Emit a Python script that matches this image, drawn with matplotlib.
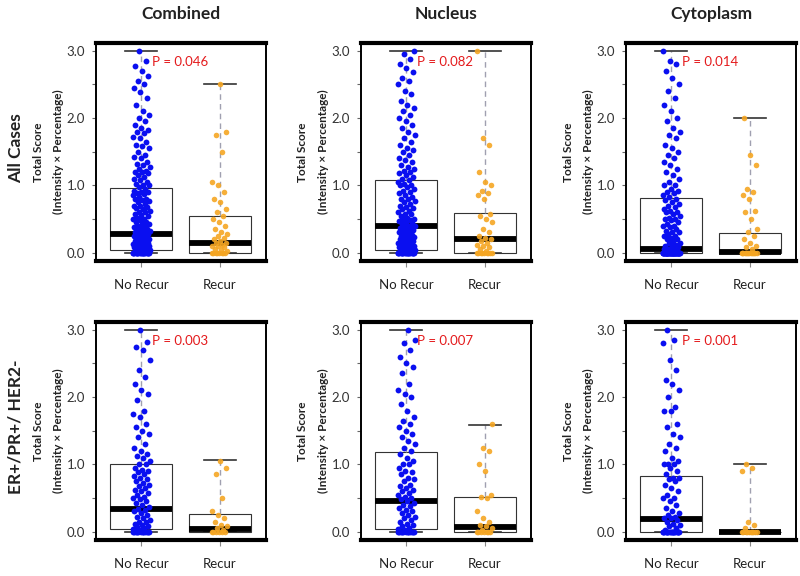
import numpy as np
import matplotlib
matplotlib.use('Agg')
import matplotlib.pyplot as plt

plt.rcParams['font.family'] = ['Lato', 'DejaVu Sans']

col_titles = ['Combined', 'Nucleus', 'Cytoplasm']
row_labels = ['All Cases', 'ER+/PR+/ HER2-']
groups = ['No Recur', 'Recur']
p_texts = [['P = 0.046', 'P = 0.082', 'P = 0.014'],
           ['P = 0.003', 'P = 0.007', 'P = 0.001']]
yticks = [0.0, 1.0, 2.0, 3.0]
ytick_labels = ['0.0', '1.0', '2.0', '3.0']

# Box statistics: (whislo, q1, med, q3, whishi)
stats_no = [[(0, 0.035, 0.27, 0.955, 3.0), (0, 0.04, 0.40, 1.08, 3.0), (0, 0.0, 0.05, 0.81, 3.0)],
            [(0, 0.035, 0.34, 1.00, 3.0), (0, 0.035, 0.45, 1.19, 3.0), (0, 0.0, 0.19, 0.83, 3.0)]]
stats_re = [[(0, 0.0, 0.14, 0.54, 2.5), (0, 0.0, 0.21, 0.59, 3.0), (0, 0.0, 0.01, 0.29, 2.0)],
            [(0, 0.0, 0.04, 0.26, 1.06), (0, 0.0, 0.07, 0.52, 1.59), (0, 0.0, 0.0, 0.0, 1.0)]]

# Individual scores
A1_no = ("0 0 0 0 0 0 0 0 0 0 0 0 0 0 0 0 0 0 0.02 0.02 0.03 0.04 0.05 0.05 0.06 0.07 0.08 0.08 0.09 "
         "0.10 0.10 0.10 0.12 0.12 0.13 0.15 0.15 0.15 0.16 0.18 0.18 0.20 0.20 0.20 0.21 0.22 0.24 0.25 "
         "0.25 0.26 0.27 0.28 0.30 0.30 0.30 0.32 0.33 0.35 0.35 0.37 0.38 0.40 0.40 0.42 0.44 0.45 0.45 "
         "0.48 0.50 0.50 0.52 0.55 0.56 0.58 0.60 0.60 0.62 0.65 0.67 0.68 0.70 0.70 0.72 0.75 0.77 0.78 "
         "0.80 0.80 0.82 0.85 0.87 0.88 0.90 0.90 0.92 0.95 0.97 1.00 1.00 1.02 1.05 1.08 1.10 1.12 1.15 "
         "1.18 1.20 1.20 1.22 1.25 1.28 1.30 1.32 1.35 1.40 1.42 1.45 1.50 1.55 1.58 1.60 1.65 1.70 1.72 "
         "1.78 1.80 1.82 1.85 1.90 1.95 2.00 2.05 2.10 2.20 2.30 2.38 2.45 2.50 2.55 2.62 2.70 2.78 2.85 3.00")
A1_re = ("0 0 0 0 0 0 0 0 0.02 0.04 0.05 0.08 0.10 0.10 0.12 0.15 0.15 0.18 0.20 0.22 0.25 0.28 0.30 "
         "0.35 0.40 0.45 0.50 0.55 0.60 0.65 0.75 0.80 0.90 1.00 1.05 1.50 1.75 1.80 2.50")
A2_no = ("0 0 0 0 0 0 0 0 0 0 0 0 0 0 0 0 0 0 0.02 0.02 0.03 0.04 0.05 0.05 0.06 0.07 0.08 0.08 0.10 0.10 "
         "0.11 0.12 0.13 0.15 0.15 0.16 0.17 0.18 0.20 0.20 0.21 0.22 0.23 0.25 0.25 0.26 0.28 0.30 0.30 "
         "0.32 0.34 0.35 0.36 0.37 0.38 0.40 0.40 0.42 0.44 0.45 0.47 0.48 0.50 0.50 0.52 0.55 0.57 0.58 "
         "0.60 0.62 0.65 0.67 0.68 0.70 0.72 0.75 0.77 0.80 0.80 0.82 0.85 0.88 0.90 0.92 0.95 0.98 1.00 "
         "1.00 1.02 1.05 1.08 1.10 1.12 1.15 1.18 1.20 1.22 1.25 1.28 1.30 1.35 1.38 1.40 1.45 1.50 1.52 "
         "1.55 1.60 1.65 1.70 1.75 1.80 1.85 1.90 1.95 2.00 2.05 2.10 2.15 2.20 2.25 2.35 2.40 2.50 2.55 "
         "2.60 2.68 2.75 2.80 2.88 2.95 3.00")
A2_re = ("0 0 0 0 0 0 0 0 0 0.02 0.05 0.08 0.10 0.12 0.15 0.18 0.20 0.22 0.25 0.30 0.35 0.45 0.50 0.55 "
         "0.58 0.80 0.85 0.88 0.92 1.00 1.05 1.20 1.60 1.70 3.00")
A3_no = ("0 0 0 0 0 0 0 0 0 0 0 0 0 0 0 0 0 0 0 0 0 0 0 0 0 0 0 0 0 0 0 0 0 0 0 0 0 0 0 0 0 0 0 0 0 "
         "0.02 0.03 0.05 0.05 0.05 0.08 0.10 0.10 0.12 0.15 0.15 0.18 0.20 0.20 0.22 0.25 0.25 0.28 0.30 "
         "0.30 0.32 0.35 0.38 0.40 0.40 0.42 0.45 0.48 0.50 0.50 0.52 0.55 0.58 0.60 0.60 0.62 0.65 0.68 "
         "0.70 0.72 0.75 0.78 0.80 0.82 0.85 0.88 0.90 0.92 0.95 1.00 1.00 1.05 1.10 1.15 1.20 1.25 1.30 "
         "1.35 1.40 1.45 1.50 1.55 1.60 1.70 1.75 1.80 1.85 1.95 2.00 2.10 2.20 2.30 2.40 2.50 2.60 2.70 "
         "2.80 2.85 3.00")
A3_re = ("0 0 0 0 0 0 0 0 0 0 0 0 0 0 0.05 0.08 0.10 0.15 0.20 0.25 0.30 0.35 0.50 0.60 0.62 0.80 0.85 "
         "0.90 0.95 1.30 1.45 2.00")
B1_no = ("0 0 0 0 0 0 0 0 0 0 0 0 0.02 0.04 0.05 0.07 0.08 0.10 0.12 0.14 0.15 0.17 0.20 0.22 0.25 0.27 "
         "0.30 0.32 0.34 0.36 0.40 0.42 0.45 0.48 0.50 0.52 0.55 0.58 0.60 0.62 0.65 0.68 0.70 0.72 0.75 "
         "0.78 0.80 0.82 0.85 0.88 0.90 0.92 0.95 1.00 1.00 1.05 1.10 1.12 1.15 1.20 1.25 1.30 1.40 1.45 "
         "1.50 1.55 1.60 1.70 1.75 1.80 1.95 2.05 2.10 2.20 2.30 2.40 2.55 2.70 2.75 2.82 3.00")
B1_re = "0 0 0 0 0 0 0.02 0.05 0.08 0.10 0.15 0.20 0.25 0.30 0.50 0.85 0.95 1.05"
B2_no = ("0 0 0 0 0 0 0 0 0 0 0 0 0.02 0.04 0.05 0.08 0.10 0.12 0.15 0.18 0.20 0.22 0.25 0.28 0.30 0.32 "
         "0.35 0.38 0.40 0.42 0.45 0.48 0.50 0.52 0.55 0.58 0.60 0.62 0.65 0.68 0.70 0.75 0.78 0.80 0.85 "
         "0.88 0.90 0.95 1.00 1.00 1.05 1.10 1.15 1.20 1.25 1.30 1.35 1.40 1.45 1.50 1.55 1.60 1.65 1.70 "
         "1.80 1.90 2.00 2.05 2.10 2.20 2.35 2.45 2.50 2.60 2.70 2.80 2.85 3.00")
B2_re = "0 0 0 0 0 0 0 0.02 0.05 0.08 0.10 0.15 0.20 0.30 0.50 0.52 0.55 0.90 1.00 1.20 1.25 1.60"
B3_no = ("0 0 0 0 0 0 0 0 0 0 0 0 0 0 0 0 0 0 0.02 0.05 0.08 0.10 0.12 0.15 0.18 0.20 0.20 0.22 0.25 "
         "0.28 0.30 0.35 0.40 0.45 0.50 0.50 0.55 0.60 0.65 0.70 0.75 0.78 0.80 0.80 0.85 0.90 0.95 1.00 "
         "1.00 1.00 1.05 1.10 1.20 1.25 1.30 1.40 1.45 1.55 1.60 1.80 1.80 1.85 2.00 2.10 2.20 2.25 2.40 "
         "2.55 2.80 2.85 3.00")
B3_re = "0 0 0 0 0 0 0 0 0 0 0.05 0.10 0.15 0.90 0.95 1.00"

scores_no = [[A1_no, A2_no, A3_no], [B1_no, B2_no, B3_no]]
scores_re = [[A1_re, A2_re, A3_re], [B1_re, B2_re, B3_re]]

W, H = 800, 576
fig = plt.figure(figsize=(8, 5.76), dpi=100)

col_left = [96, 361, 626]
col_w = 170
row_top = [43, 322]
row_h = 218

blue = '#0a0ff0'
orange = '#f5a623'


def to_stats(t):
    lo, q1, med, q3, hi = t
    return dict(whislo=lo, q1=q1, med=med, q3=q3, whishi=hi)


def jitter(n, half):
    return (((np.arange(n) * 0.6180339887) % 1.0) - 0.5) * 2 * half


for r in range(2):
    for c in range(3):
        ax = fig.add_axes([col_left[c] / W, 1 - (row_top[r] + row_h) / H, col_w / W, row_h / H])
        ax.bxp([to_stats(stats_no[r][c]), to_stats(stats_re[r][c])], positions=[1, 2],
               widths=0.79, capwidths=0.41, showfliers=False, patch_artist=True,
               boxprops=dict(facecolor='white', edgecolor='#333333', linewidth=0.8),
               medianprops=dict(color='black', linewidth=4.2, solid_capstyle='butt'),
               whiskerprops=dict(color='#a0a0b0', linestyle=(0, (4, 3)), linewidth=1.0),
               capprops=dict(color='#333333', linewidth=1.2), zorder=2)
        vn = np.array(scores_no[r][c].split(), dtype=float)
        vr = np.array(scores_re[r][c].split(), dtype=float)
        ax.plot(1 + jitter(len(vn), 0.11), vn, 'o', color=blue, markersize=4.2,
                markeredgewidth=0, zorder=3)
        ax.plot(2 + jitter(len(vr), 0.10), vr, 'o', color=orange, markersize=4.0,
                markeredgewidth=0, alpha=0.9, zorder=3)
        ax.set_xlim(0.42, 2.59)
        ax.set_ylim(-0.124, 3.115)
        ax.set_yticks(yticks)
        ax.set_yticklabels(ytick_labels)
        ax.set_yticks([0.5, 1.5, 2.5], minor=True)
        ax.set_xticks([1, 2])
        ax.set_xticklabels(groups)
        ax.tick_params(axis='y', which='both', length=3, width=0.8, color='#666666',
                       labelsize=9.5, labelcolor='#333333', pad=5)
        ax.tick_params(axis='x', length=4, width=0.8, color='#888888',
                       labelsize=9.5, labelcolor='#222222', pad=9)
        for s in ['top', 'bottom']:
            ax.spines[s].set_linewidth(3.0)
        for s in ['left', 'right']:
            ax.spines[s].set_linewidth(1.4)
        ax.text(1.13, 2.84, p_texts[r][c], color='#e41a1c', fontsize=9.5,
                ha='left', va='center', zorder=4)
        ax.text(-58 / col_w, 0.5, 'Total Score', rotation=90, transform=ax.transAxes,
                ha='center', va='center', fontsize=8.5, fontweight='bold', color='#222222')
        ax.text(-38 / col_w, 0.5, '(Intensity × Percentage)', rotation=90, transform=ax.transAxes,
                ha='center', va='center', fontsize=8.5, fontweight='bold', color='#222222')
        if r == 0:
            fig.text((col_left[c] + col_w / 2) / W, 1 - 14 / H, col_titles[c],
                     ha='center', va='center', fontsize=12.5, fontweight='bold', color='#222222')

for r in range(2):
    fig.text(16 / W, 1 - (row_top[r] + row_h / 2 - 4) / H, row_labels[r], rotation=90,
             ha='center', va='center', fontsize=12.5, fontweight='bold', color='#222222')

fig.savefig('out.png', dpi=100)
